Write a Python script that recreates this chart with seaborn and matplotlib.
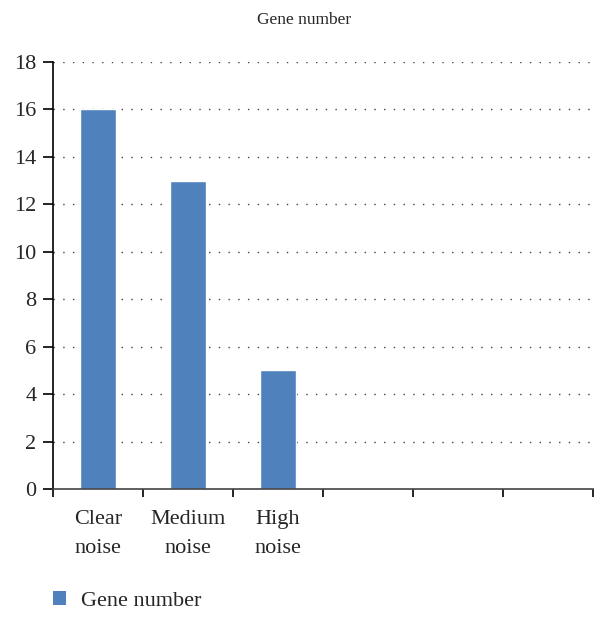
import numpy as np
import pandas as pd
import matplotlib
matplotlib.use("Agg")
import matplotlib.pyplot as plt
import seaborn as sns
from matplotlib.patches import Patch

categories = ["Clear\nnoise", "Medium\nnoise", "High\nnoise"]
gene_number = [16, 13, 5]
n_slots = 6
y_ticks = [0, 2, 4, 6, 8, 10, 12, 14, 16, 18]

sns.set_theme(style="white")
plt.rcParams["font.family"] = ["Liberation Serif", "DejaVu Serif"]

df = pd.DataFrame({"category": categories, "value": gene_number})
bar_color = "#4F81BD"

fig = plt.figure(figsize=(6.08, 6.17), dpi=100)
ax = fig.add_axes([0.0872, 0.2075, 0.8882, 0.692])

sns.barplot(data=df, x="category", y="value", order=categories,
            color=bar_color, saturation=1, width=0.4, ax=ax)

ax.set_xlim(-0.5, n_slots - 0.5)
ax.set_ylim(0, 18)
ax.set_yticks(y_ticks)
ax.set_yticklabels([str(t) for t in y_ticks], fontsize=16)

# boundary ticks (major), label positions (minor)
ax.set_xticks(np.arange(-0.5, n_slots, 1.0))
ax.set_xticklabels([""] * (n_slots + 1))
ax.set_xticks(range(len(categories)), minor=True)
ax.set_xticklabels(categories, minor=True, fontsize=16, linespacing=1.7)
ax.tick_params(axis="x", which="major", direction="out", length=6, width=1.2,
               color="black", bottom=True)
ax.tick_params(axis="x", which="minor", length=0, pad=15)
ax.tick_params(axis="y", direction="out", length=7, width=1.2, color="black",
               left=True, pad=5)

ax.yaxis.grid(True, linestyle=(0, (1, 6)), color="#444444", linewidth=1)
ax.set_axisbelow(True)

for side in ["top", "right"]:
    ax.spines[side].set_visible(False)
ax.spines["left"].set_color("black")
ax.spines["left"].set_linewidth(1.2)
ax.spines["bottom"].set_color("#444444")
ax.spines["bottom"].set_linewidth(1.2)

ax.set_xlabel("")
ax.set_ylabel("")

fig.text(0.5, 0.967, "Gene number", ha="center", va="center", fontsize=12.5)

handle = Patch(facecolor=bar_color, edgecolor="none")
fig.legend([handle], ["Gene number"], loc="center left",
           bbox_to_anchor=(0.087, 0.026), frameon=False, fontsize=16,
           borderpad=0, borderaxespad=0,
           handlelength=0.6, handleheight=0.6, handletextpad=0.65)

fig.savefig("out.png", dpi=100)
